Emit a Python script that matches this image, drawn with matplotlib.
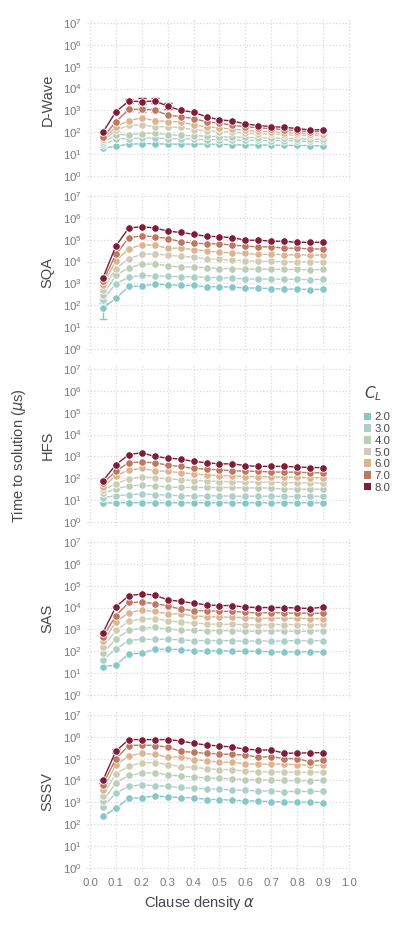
import numpy as np
import matplotlib
matplotlib.use("Agg")
import matplotlib.pyplot as plt
from matplotlib.patches import Patch

plt.rcParams['font.family'] = ['Liberation Sans', 'DejaVu Sans']
plt.rcParams['mathtext.fontset'] = 'dejavusans'

# clause density (x axis)
alpha = [0.05, 0.10, 0.15, 0.20, 0.25, 0.30, 0.35, 0.40, 0.45,
         0.50, 0.55, 0.60, 0.65, 0.70, 0.75, 0.80, 0.85, 0.90]
cl_values = [2.0, 3.0, 4.0, 5.0, 6.0, 7.0, 8.0]
cl_colors = ['#86c8c8', '#acd0c8', '#bccdb8', '#cfccb5', '#dbb592', '#bb7862', '#7d1d3a']
solvers = ['D-Wave', 'SQA', 'HFS', 'SAS', 'SSSV']

# log10 of time to solution (us), one row per C_L (2.0 ... 8.0)
dwave_log = [
    [1.26, 1.37, 1.45, 1.48, 1.48, 1.46, 1.46, 1.46, 1.46, 1.45, 1.43, 1.42, 1.42, 1.42, 1.40, 1.40, 1.39, 1.38],
    [1.40, 1.71, 1.71, 1.74, 1.74, 1.71, 1.71, 1.68, 1.66, 1.66, 1.65, 1.63, 1.63, 1.62, 1.62, 1.60, 1.58, 1.58],
    [1.50, 1.89, 1.89, 1.94, 1.97, 1.89, 1.86, 1.85, 1.82, 1.80, 1.78, 1.77, 1.75, 1.74, 1.72, 1.71, 1.69, 1.69],
    [1.60, 2.09, 2.32, 2.34, 2.26, 2.25, 2.22, 2.12, 2.08, 2.03, 2.00, 1.97, 1.92, 1.92, 1.89, 1.86, 1.85, 1.85],
    [1.70, 2.25, 2.54, 2.66, 2.54, 2.49, 2.48, 2.34, 2.25, 2.20, 2.15, 2.09, 2.05, 2.02, 1.98, 1.97, 1.92, 1.94],
    [1.78, 2.48, 3.05, 3.05, 3.03, 2.78, 2.72, 2.63, 2.48, 2.42, 2.32, 2.26, 2.20, 2.17, 2.12, 2.08, 2.02, 2.05],
    [2.00, 2.94, 3.43, 3.40, 3.43, 3.20, 3.00, 2.92, 2.71, 2.57, 2.52, 2.38, 2.31, 2.26, 2.23, 2.17, 2.11, 2.12],
]
sqa_log = [
    [1.87, 2.32, 2.86, 2.88, 2.97, 2.94, 2.91, 2.91, 2.85, 2.85, 2.83, 2.79, 2.79, 2.76, 2.74, 2.74, 2.72, 2.73],
    [2.26, 2.99, 3.28, 3.37, 3.34, 3.33, 3.31, 3.31, 3.27, 3.27, 3.24, 3.20, 3.20, 3.20, 3.19, 3.19, 3.17, 3.19],
    [2.48, 3.37, 3.72, 3.87, 3.89, 3.81, 3.75, 3.75, 3.72, 3.68, 3.68, 3.65, 3.65, 3.65, 3.64, 3.64, 3.62, 3.64],
    [2.71, 3.68, 4.13, 4.33, 4.35, 4.29, 4.24, 4.20, 4.13, 4.10, 4.06, 4.04, 4.01, 4.01, 4.00, 3.98, 3.98, 3.98],
    [2.94, 4.04, 4.58, 4.77, 4.75, 4.61, 4.61, 4.55, 4.49, 4.43, 4.40, 4.37, 4.33, 4.33, 4.32, 4.30, 4.30, 4.29],
    [3.10, 4.33, 5.09, 5.17, 5.14, 5.05, 4.91, 4.85, 4.81, 4.81, 4.75, 4.71, 4.67, 4.67, 4.61, 4.61, 4.58, 4.57],
    [3.25, 4.71, 5.54, 5.59, 5.54, 5.39, 5.33, 5.25, 5.15, 5.14, 5.09, 4.98, 4.97, 4.94, 4.92, 4.88, 4.88, 4.88],
]
hfs_log = [
    [0.87, 0.88, 0.88, 0.88, 0.88, 0.88, 0.88, 0.88, 0.88, 0.88, 0.88, 0.88, 0.88, 0.88, 0.88, 0.88, 0.88, 0.88],
    [1.12, 1.20, 1.25, 1.28, 1.25, 1.23, 1.20, 1.20, 1.20, 1.20, 1.18, 1.18, 1.18, 1.18, 1.17, 1.17, 1.17, 1.18],
    [1.31, 1.51, 1.65, 1.68, 1.65, 1.60, 1.58, 1.58, 1.58, 1.57, 1.58, 1.55, 1.57, 1.54, 1.51, 1.51, 1.49, 1.51],
    [1.46, 1.74, 1.98, 2.06, 2.03, 1.97, 1.94, 1.89, 1.88, 1.85, 1.85, 1.83, 1.82, 1.82, 1.80, 1.80, 1.78, 1.78],
    [1.62, 2.11, 2.38, 2.45, 2.35, 2.31, 2.26, 2.20, 2.15, 2.12, 2.11, 2.08, 2.08, 2.06, 2.05, 2.05, 2.03, 2.03],
    [1.77, 2.32, 2.72, 2.74, 2.71, 2.60, 2.54, 2.45, 2.42, 2.38, 2.35, 2.32, 2.32, 2.29, 2.28, 2.28, 2.25, 2.25],
    [1.88, 2.62, 3.08, 3.17, 3.00, 2.92, 2.88, 2.77, 2.71, 2.66, 2.66, 2.58, 2.54, 2.55, 2.54, 2.52, 2.49, 2.49],
]
sas_log = [
    [1.29, 1.37, 1.88, 1.91, 2.09, 2.09, 2.08, 2.02, 2.02, 2.03, 2.00, 2.00, 2.00, 1.97, 1.97, 1.97, 1.98, 1.97],
    [1.60, 2.11, 2.49, 2.55, 2.54, 2.55, 2.52, 2.49, 2.49, 2.49, 2.48, 2.45, 2.48, 2.45, 2.48, 2.48, 2.48, 2.49],
    [1.92, 2.57, 2.95, 3.06, 3.09, 3.00, 2.97, 2.97, 2.94, 2.94, 2.94, 2.91, 2.92, 2.94, 2.92, 2.91, 2.92, 2.94],
    [2.20, 2.95, 3.37, 3.48, 3.49, 3.40, 3.34, 3.29, 3.25, 3.23, 3.23, 3.22, 3.20, 3.22, 3.22, 3.22, 3.20, 3.23],
    [2.45, 3.35, 3.77, 3.88, 3.82, 3.71, 3.71, 3.62, 3.58, 3.57, 3.55, 3.54, 3.49, 3.52, 3.51, 3.51, 3.49, 3.49],
    [2.65, 3.63, 4.23, 4.25, 4.18, 4.08, 3.92, 3.86, 3.85, 3.83, 3.82, 3.78, 3.75, 3.77, 3.75, 3.74, 3.74, 3.74],
    [2.85, 4.03, 4.54, 4.62, 4.57, 4.35, 4.28, 4.20, 4.12, 4.09, 4.09, 4.02, 4.00, 4.00, 4.00, 3.98, 3.95, 4.02],
]
sssv_log = [
    [2.36, 2.73, 3.19, 3.21, 3.30, 3.25, 3.22, 3.21, 3.13, 3.13, 3.10, 3.07, 3.06, 3.03, 3.03, 3.01, 3.01, 2.99],
    [2.78, 3.43, 3.73, 3.81, 3.76, 3.73, 3.68, 3.65, 3.62, 3.61, 3.56, 3.55, 3.52, 3.52, 3.49, 3.50, 3.50, 3.50],
    [3.04, 3.90, 4.23, 4.33, 4.36, 4.26, 4.20, 4.17, 4.11, 4.10, 4.07, 4.04, 4.02, 4.02, 4.00, 4.00, 3.99, 4.02],
    [3.31, 4.32, 4.66, 4.81, 4.82, 4.73, 4.63, 4.60, 4.54, 4.50, 4.50, 4.42, 4.41, 4.39, 4.39, 4.38, 4.38, 4.38],
    [3.58, 4.72, 5.12, 5.25, 5.19, 5.07, 5.09, 4.96, 4.90, 4.84, 4.84, 4.76, 4.75, 4.75, 4.75, 4.73, 4.70, 4.69],
    [3.81, 5.00, 5.60, 5.62, 5.60, 5.53, 5.33, 5.29, 5.24, 5.22, 5.19, 5.16, 5.07, 5.09, 5.00, 5.00, 4.85, 4.94],
    [4.00, 5.35, 5.87, 5.87, 5.87, 5.87, 5.81, 5.70, 5.62, 5.58, 5.53, 5.43, 5.40, 5.39, 5.25, 5.25, 5.27, 5.27],
]
solver_data = [dwave_log, sqa_log, hfs_log, sas_log, sssv_log]

# visible error bars: (solver, C_L, alpha, log10 low, log10 high)
error_bars = [
    ('D-Wave', 8.0, 0.15, 3.33, 3.52),
    ('D-Wave', 8.0, 0.20, 3.28, 3.55),
    ('D-Wave', 8.0, 0.25, 3.32, 3.55),
    ('D-Wave', 8.0, 0.30, 3.08, 3.33),
    ('D-Wave', 7.0, 0.15, 2.97, 3.12),
    ('D-Wave', 7.0, 0.20, 2.95, 3.15),
    ('D-Wave', 7.0, 0.25, 2.93, 3.13),
    ('SQA', 2.0, 0.05, 1.39, 2.10),
    ('SQA', 4.0, 0.05, 2.30, 2.60),
    ('SQA', 3.0, 0.05, 2.12, 2.38),
    ('SSSV', 8.0, 0.05, 3.90, 4.08),
    ('SSSV', 5.0, 0.05, 3.22, 3.40),
    ('SSSV', 8.0, 0.10, 5.28, 5.42),
]

tick_color = '#7b7580'
grid_color = '#d9d9e3'
text_color = '#4a4550'

fig, axes = plt.subplots(5, 1, figsize=(3.99, 9.30), dpi=100, sharex=True)
fig.subplots_adjust(left=0.219, right=0.881, top=0.980, bottom=0.062, hspace=0.069)

for ax, name, data in zip(axes, solvers, solver_data):
    for cl, color, row in zip(cl_values, cl_colors, data):
        y = np.power(10.0, row)
        ax.plot(alpha, y, color=color, lw=1.0, marker='o', markersize=5.4,
                markeredgecolor='white', markeredgewidth=0.6, zorder=3)
        for s, c, a, lo, hi in error_bars:
            if s == name and c == cl:
                yv = 10 ** row[alpha.index(a)]
                ax.errorbar([a], [yv], yerr=[[yv - 10 ** lo], [10 ** hi - yv]],
                            fmt='none', ecolor=color, elinewidth=1.0, capsize=3,
                            capthick=1.0, zorder=2)
    ax.set_yscale('log')
    ax.set_ylim(10 ** -0.2, 10 ** 7.2)
    ax.set_xlim(-0.01, 1.01)
    ax.set_yticks([10.0 ** k for k in range(8)])
    ax.yaxis.set_minor_locator(matplotlib.ticker.NullLocator())
    ax.set_xticks(np.arange(0, 1.01, 0.1))
    ax.grid(True, which='major', linestyle=':', color=grid_color, lw=0.9)
    ax.set_axisbelow(True)
    for sp in ax.spines.values():
        sp.set_visible(False)
    ax.tick_params(length=0, labelsize=8.2, colors=tick_color, pad=4)
    ax.set_ylabel(name, fontsize=10.5, color=text_color, labelpad=6)

axes[-1].set_xticklabels([f'{v:.1f}' for v in np.arange(0, 1.01, 0.1)])
fig.text(0.5, 0.029, r'Clause density $\alpha$', ha='center', va='center',
         fontsize=10.5, color=text_color)
fig.text(0.047, 0.51, r'Time to solution ($\mu$s)', ha='center', va='center',
         rotation=90, fontsize=10.5, color=text_color)

handles = [Patch(facecolor=c, edgecolor='none') for c in cl_colors]
leg = fig.legend(handles, [f'{v:.1f}' for v in cl_values], title=r'$C_L$',
                 loc='upper left', bbox_to_anchor=(0.900, 0.592), frameon=False,
                 fontsize=8.2, title_fontsize=11, handlelength=0.65, handleheight=0.65,
                 handletextpad=0.3, labelspacing=0.15, borderaxespad=0)
for t in leg.get_texts():
    t.set_color(text_color)
leg.get_title().set_color(text_color)
leg._legend_box.align = 'left'
leg._legend_box.sep = 7

fig.savefig('out.png', dpi=100)
